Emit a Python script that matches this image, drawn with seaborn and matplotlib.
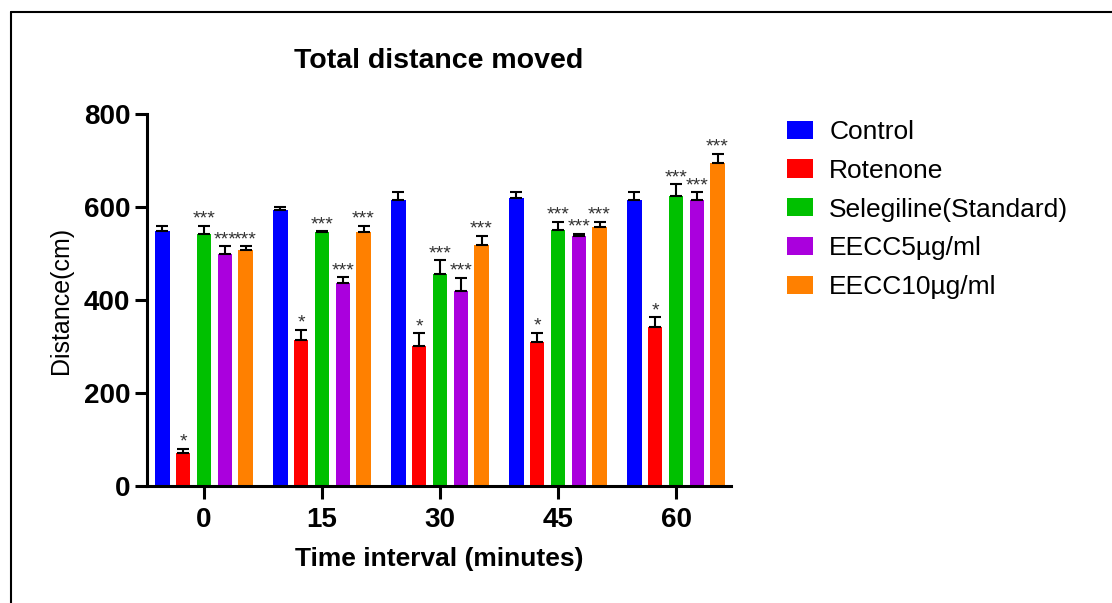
import matplotlib
matplotlib.use("Agg")
import matplotlib.pyplot as plt
from matplotlib.lines import Line2D
import pandas as pd
import seaborn as sns

sns.set_style("ticks", {"text.color": "black", "axes.labelcolor": "black",
                        "xtick.color": "black", "ytick.color": "black",
                        "axes.edgecolor": "black"})
plt.rcParams["font.family"] = ["Liberation Sans", "DejaVu Sans"]

# Data
times = ["0", "15", "30", "45", "60"]
groups = ["Control", "Rotenone", "Selegiline(Standard)", "EECC5µg/ml", "EECC10µg/ml"]
colors = ["#0000FF", "#FF0000", "#00C000", "#AA00DD", "#FF8000"]

control_mean = [548, 593, 616, 620, 616]
control_err = [12, 6, 16, 12, 16]
rotenone_mean = [72, 313, 302, 310, 343]
rotenone_err = [8, 23, 26, 19, 20]
selegiline_mean = [541, 546, 456, 551, 623]
selegiline_err = [19, 2, 29, 17, 26]
eecc5_mean = [500, 436, 419, 538, 614]
eecc5_err = [16, 13, 29, 5, 18]
eecc10_mean = [507, 546, 518, 556, 695]
eecc10_err = [9, 14, 20, 12, 19]

# significance marks per group (Control has none)
marks = ["", "*", "***", "***", "***"]

means = [control_mean, rotenone_mean, selegiline_mean, eecc5_mean, eecc10_mean]
errs = [control_err, rotenone_err, selegiline_err, eecc5_err, eecc10_err]

rows = []
for g, m in zip(groups, means):
    for t, v in zip(times, m):
        rows.append({"time": t, "group": g, "distance": v})
df = pd.DataFrame(rows)

fig = plt.figure(figsize=(11.12, 6.03), dpi=100)
ax = fig.add_axes([147 / 1112, 117 / 603, 584 / 1112, 372 / 603])

sns.barplot(data=df, x="time", y="distance", hue="group", order=times,
            hue_order=groups, palette=colors, saturation=1, width=0.88, gap=0.32,
            errorbar=None, linewidth=0, ax=ax, legend=True)

# upper error bars and significance stars
for cont, err, mark in zip(ax.containers, errs, marks):
    xs = [b.get_x() + b.get_width() / 2 for b in cont]
    hs = [b.get_height() for b in cont]
    ax.errorbar(xs, hs, yerr=[[0] * len(err), err], fmt="none", ecolor="black",
                elinewidth=1.5, capsize=4.3, capthick=1.5, zorder=1)
    if mark:
        for x, h, e in zip(xs, hs, err):
            ax.annotate(mark, (x, h + e), xytext=(0, 1.5), textcoords="offset points",
                        ha="center", va="baseline", fontsize=14, color="#333333")

ax.set_ylim(0, 800)
ax.set_xlim(-0.483, 4.466)
ax.set_yticks([0, 200, 400, 600, 800])
sns.despine(ax=ax)
for s in ["left", "bottom"]:
    ax.spines[s].set_linewidth(2.2)
ax.tick_params(axis="both", width=2.2, length=9, labelsize=20, colors="black")
ax.tick_params(axis="y", pad=3)
ax.tick_params(axis="x", pad=6)
for lbl in ax.get_xticklabels() + ax.get_yticklabels():
    lbl.set_fontweight("bold")

ax.set_title("Total distance moved", fontsize=20.5, fontweight="bold", pad=33,
             color="black")
ax.set_xlabel("Time interval (minutes)", fontsize=19, fontweight="bold", labelpad=10)
ax.set_ylabel("Distance(cm)", fontsize=18, labelpad=8)

leg = ax.legend(loc="upper left", bbox_to_anchor=(787 / 1112, 1 - 120 / 603),
                bbox_transform=fig.transFigure, frameon=False, fontsize=19,
                handlelength=1.0, handleheight=0.68, handletextpad=0.6,
                labelspacing=0.56, borderpad=0, borderaxespad=0, title=None)
for t in leg.get_texts():
    t.set_color("black")

# frame lines at the left and top of the picture
fig.add_artist(Line2D([11 / 1112, 11 / 1112], [0, 1 - 12 / 603], color="black",
                      lw=1.5, transform=fig.transFigure))
fig.add_artist(Line2D([11 / 1112, 1], [1 - 12 / 603, 1 - 12 / 603], color="black",
                      lw=1.5, transform=fig.transFigure))

fig.savefig("out.png", dpi=100)
